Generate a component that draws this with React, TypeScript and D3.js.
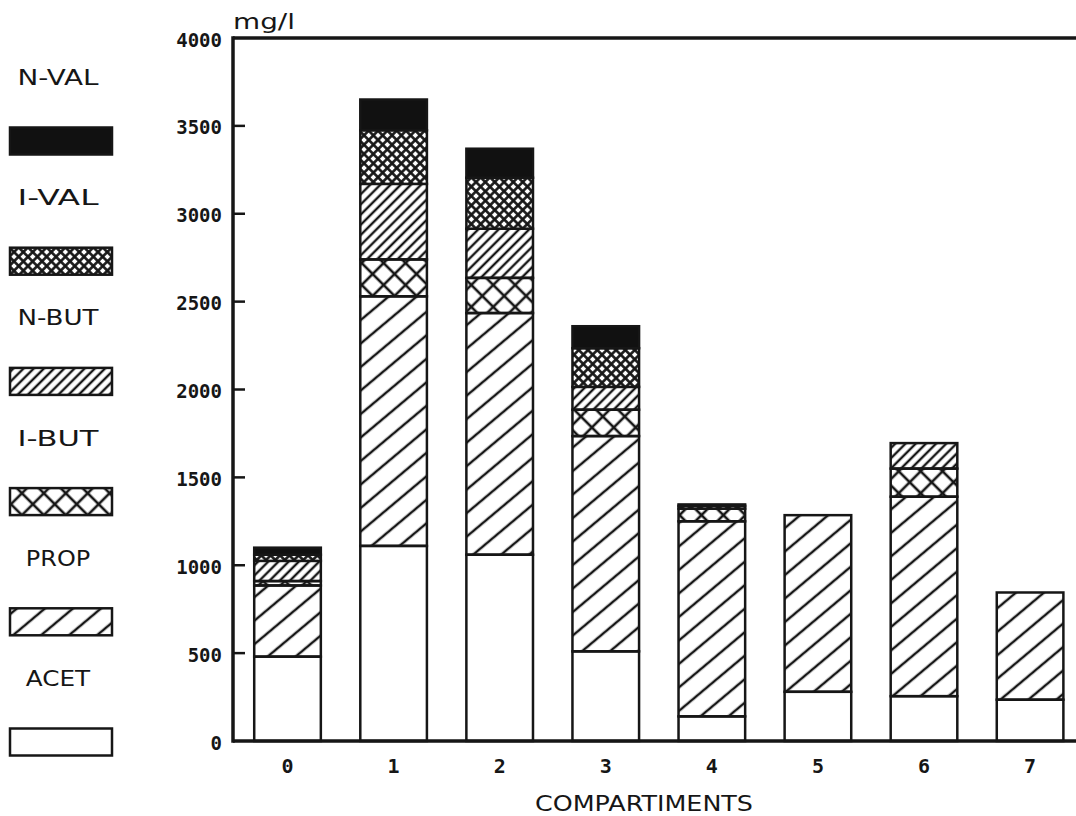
import React from "react";
import * as d3 from "d3";

const categories = ["0", "1", "2", "3", "4", "5", "6", "7"];
// stacked segment values (mg/l), bottom to top
const acet = [480, 1110, 1060, 510, 140, 280, 255, 235];
const prop = [405, 1420, 1375, 1225, 1110, 1005, 1135, 610];
const ibut = [25, 210, 200, 150, 72, 0, 160, 0];
const nbut = [115, 430, 280, 130, 0, 0, 145, 0];
const ival = [35, 305, 290, 220, 16, 0, 0, 0];
const nval = [40, 175, 165, 125, 8, 0, 0, 0];
const seriesKeys = ["ACET", "PROP", "I-BUT", "N-BUT", "I-VAL", "N-VAL"];
const legendOrder = ["N-VAL", "I-VAL", "N-BUT", "I-BUT", "PROP", "ACET"];
const yTicks = [0, 500, 1000, 1500, 2000, 2500, 3000, 3500, 4000];
const yUnit = "mg/l";
const xTitle = "COMPARTIMENTS";

const fills: Record<string, string> = {
  ACET: "#fff",
  PROP: "url(#pProp)",
  "I-BUT": "url(#pIbut)",
  "N-BUT": "url(#pNbut)",
  "I-VAL": "url(#pIval)",
  "N-VAL": "#111",
};

export default function App() {
  const W = 1076, H = 816;
  const left = 233, top = 38, bottom = 741;
  const rows = categories.map((c, i) => ({
    cat: c,
    ACET: acet[i],
    PROP: prop[i],
    "I-BUT": ibut[i],
    "N-BUT": nbut[i],
    "I-VAL": ival[i],
    "N-VAL": nval[i],
  }));
  const stack = d3.stack<any>().keys(seriesKeys);
  const layers = stack(rows);
  const y = d3.scaleLinear().domain([0, 4000]).range([bottom, top]);
  const x = d3
    .scaleBand()
    .domain(categories)
    .range([left, 1084.6])
    .paddingInner(0.372)
    .paddingOuter(0.2);
  const ink = "#161616";
  const monoBold = "'DejaVu Sans Mono', monospace";
  const sans = "'DejaVu Sans', sans-serif";

  return (
    <svg
      width={W}
      height={H}
      style={{ position: "absolute", left: 0, top: 0, background: "#fff" }}
    >
      <defs>
        <pattern id="pProp" patternUnits="userSpaceOnUse" width={18} height={18} patternTransform="rotate(-40)">
          <line x1={-2} y1={9} x2={20} y2={9} stroke={ink} strokeWidth={2.5} />
        </pattern>
        <pattern id="pNbut" patternUnits="userSpaceOnUse" width={7.2} height={7.2} patternTransform="rotate(-45)">
          <line x1={-2} y1={3.6} x2={9.2} y2={3.6} stroke={ink} strokeWidth={2.4} />
        </pattern>
        <pattern id="pIbut" patternUnits="userSpaceOnUse" width={15.5} height={15.5} patternTransform="rotate(45)">
          <line x1={-2} y1={7.75} x2={18} y2={7.75} stroke={ink} strokeWidth={2.6} />
          <line x1={7.75} y1={-2} x2={7.75} y2={18} stroke={ink} strokeWidth={2.6} />
        </pattern>
        <pattern id="pIval" patternUnits="userSpaceOnUse" width={6.6} height={6.6} patternTransform="rotate(45)">
          <rect x={0} y={0} width={6.6} height={6.6} fill="#fff" />
          <line x1={-2} y1={3.3} x2={9} y2={3.3} stroke={ink} strokeWidth={2.6} />
          <line x1={3.3} y1={-2} x2={3.3} y2={9} stroke={ink} strokeWidth={2.6} />
        </pattern>
      </defs>

      {/* legend */}
      {legendOrder.map((k, i) => {
        const cy = 77.5 + i * 120.2;
        return (
          <g key={k}>
            <text
              x={58}
              y={cy + 7.5}
              textAnchor="middle"
              fontFamily={sans}
              fontSize={21}
              fill={ink}
              textLength={k.length * 16.6 - 2}
              lengthAdjust="spacingAndGlyphs"
            >
              {k}
            </text>
            <rect x={10} y={cy + 50} width={102} height={27} fill={fills[k]} stroke={ink} strokeWidth={2.5} />
          </g>
        );
      })}

      {/* bars */}
      {layers.map((layer) => (
        <g key={layer.key}>
          {layer.map((d, i) =>
            d[1] - d[0] > 0 ? (
              <rect
                key={i}
                x={x(categories[i])!}
                y={y(d[1])}
                width={x.bandwidth()}
                height={y(d[0]) - y(d[1])}
                fill={fills[layer.key]}
                stroke={ink}
                strokeWidth={2.5}
              />
            ) : null
          )}
        </g>
      ))}

      {/* frame */}
      <line x1={left} y1={top} x2={W} y2={top} stroke={ink} strokeWidth={3.5} />
      <line x1={left} y1={bottom} x2={W} y2={bottom} stroke={ink} strokeWidth={3.5} />
      <line x1={left} y1={top - 1.7} x2={left} y2={bottom + 1.7} stroke={ink} strokeWidth={3.5} />

      {/* y ticks */}
      {yTicks.map((t) => (
        <g key={t}>
          {t > 0 && t < 4000 ? (
            <line x1={left} x2={left + 12} y1={y(t)} y2={y(t)} stroke={ink} strokeWidth={2.5} />
          ) : null}
          <text
            x={222}
            y={y(t) + 8.5}
            textAnchor="end"
            fontFamily={monoBold}
            fontWeight="bold"
            fontSize={19}
            fill={ink}
          >
            {t}
          </text>
        </g>
      ))}

      {/* x labels */}
      {categories.map((c) => (
        <text
          key={c}
          x={x(c)! + x.bandwidth() / 2}
          y={773}
          textAnchor="middle"
          fontFamily={monoBold}
          fontWeight="bold"
          fontSize={20}
          fill={ink}
        >
          {c}
        </text>
      ))}

      <text x={233} y={29} fontFamily={sans} fontSize={21} fill={ink} textLength={62} lengthAdjust="spacingAndGlyphs">
        {yUnit}
      </text>
      <text x={535} y={811} fontFamily={sans} fontSize={22} fill={ink} textLength={218} lengthAdjust="spacingAndGlyphs">
        {xTitle}
      </text>
    </svg>
  );
}
